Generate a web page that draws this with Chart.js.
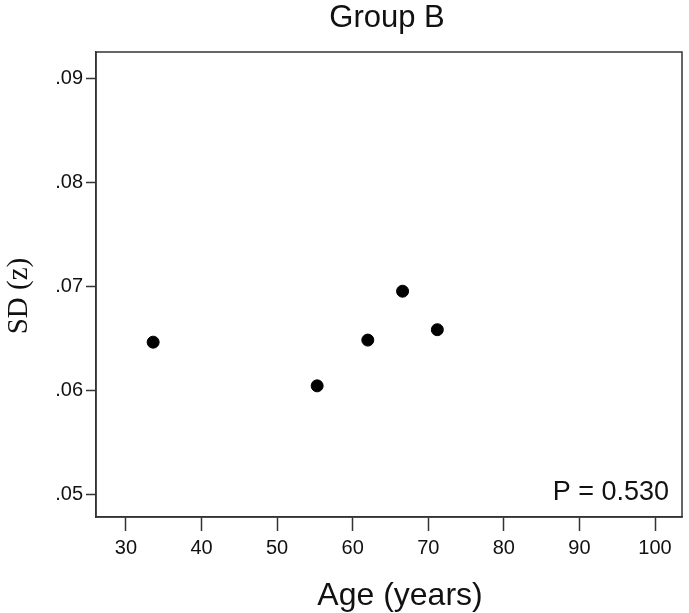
<!DOCTYPE html>
<html>
<head>
<meta charset="utf-8">
<script src="https://cdn.jsdelivr.net/npm/chart.js@4"></script>
<style>
  html, body { margin: 0; padding: 0; background: #fff; }
  #wrap { width: 689px; height: 613px; }
</style>
</head>
<body>
<div id="wrap"><canvas id="scatter" width="689" height="613"></canvas></div>
<script>
// data
const ages = [33.6, 55.3, 62.0, 66.6, 71.2];
const sdValues = [0.0646, 0.0604, 0.0648, 0.0695, 0.0658];
const xTicks = [30, 40, 50, 60, 70, 80, 90, 100];
const yTicks = [0.05, 0.06, 0.07, 0.08, 0.09];
const chartTitle = "Group B";
const xTitle = "Age (years)";
const yTitle = "SD (z)";
const pLabel = "P = 0.530";

const textColor = "#111";
const lineColor = "#333";
const sans = "'Liberation Sans', Arial, sans-serif";
const serif = "'Liberation Serif', 'Times New Roman', serif";

// frame, title, axis titles and p-value text
const framePlugin = {
  id: "frame",
  afterDraw(chart) {
    const { ctx, chartArea: a } = chart;
    ctx.save();
    ctx.strokeStyle = lineColor;
    ctx.lineWidth = 1.5;
    ctx.strokeRect(a.left, a.top, a.right - a.left, a.bottom - a.top);

    ctx.fillStyle = textColor;
    ctx.textBaseline = "alphabetic";
    ctx.textAlign = "center";
    ctx.font = "31px " + sans;
    ctx.fillText(chartTitle, 387, 27);

    ctx.font = "32px " + sans;
    ctx.fillText(xTitle, 400, 605);

    ctx.textAlign = "right";
    ctx.font = "27px " + sans;
    ctx.fillText(pLabel, a.right - 13, a.bottom - 17);

    ctx.translate(19, 296);
    ctx.rotate(-Math.PI / 2);
    ctx.textAlign = "center";
    ctx.textBaseline = "middle";
    ctx.font = "29px " + serif;
    ctx.fillText(yTitle, 0, 0);
    ctx.restore();
  }
};

new Chart(document.getElementById("scatter"), {
  type: "scatter",
  data: {
    datasets: [{
      data: ages.map((x, i) => ({ x, y: sdValues[i] })),
      backgroundColor: "#000",
      borderColor: "#000",
      pointRadius: 6,
      pointHoverRadius: 6
    }]
  },
  options: {
    responsive: false,
    animation: false,
    layout: { padding: { top: 52, right: 6, left: 0, bottom: 0 } },
    plugins: {
      legend: { display: false },
      tooltip: { enabled: false }
    },
    scales: {
      x: {
        type: "linear",
        min: 26.04,
        max: 103.57,
        afterBuildTicks(scale) { scale.ticks = xTicks.map((v) => ({ value: v })); },
        afterFit(scale) {
          scale.height = 96;
          scale.paddingLeft = 0;
          scale.paddingRight = 0;
        },
        grid: { drawOnChartArea: false, drawTicks: true, tickLength: 14, tickColor: lineColor, tickWidth: 1.5 },
        border: { color: lineColor, width: 1.5 },
        ticks: { color: textColor, font: { family: sans, size: 20 }, padding: 5 }
      },
      y: {
        type: "linear",
        min: 0.04779,
        max: 0.0925,
        afterBuildTicks(scale) { scale.ticks = yTicks.map((v) => ({ value: v })); },
        afterFit(scale) {
          scale.width = 96;
          scale.paddingTop = 0;
          scale.paddingBottom = 0;
        },
        grid: { drawOnChartArea: false, drawTicks: true, tickLength: 10, tickColor: lineColor, tickWidth: 1.5 },
        border: { color: lineColor, width: 1.5 },
        ticks: {
          color: textColor,
          font: { family: sans, size: 20 },
          padding: 3,
          callback(value) { return value.toFixed(2).replace(/^0/, ""); }
        }
      }
    }
  },
  plugins: [framePlugin]
});
</script>
</body>
</html>
